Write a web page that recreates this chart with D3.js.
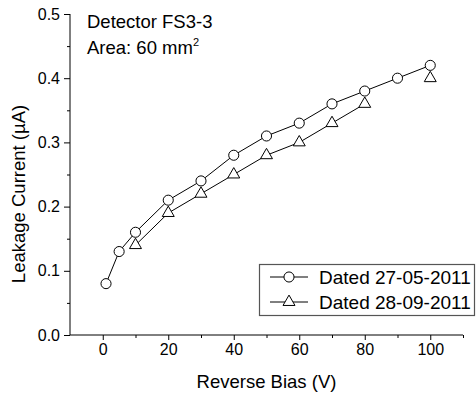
<!DOCTYPE html>
<html>
<head>
<meta charset="utf-8">
<script src="https://cdn.jsdelivr.net/npm/d3@7"></script>
<style>
  body { margin: 0; background: #fff; }
  text { font-family: "Liberation Sans", Arial, sans-serif; fill: #000; }
</style>
</head>
<body>
<div id="chart"></div>
<script>
const width = 476;
const height = 394;

// --- data ---
const biasMay = [1, 5, 10, 20, 30, 40, 50, 60, 70, 80, 90, 100];
const currentMay = [0.08, 0.13, 0.16, 0.21, 0.24, 0.28, 0.31, 0.33, 0.36, 0.38, 0.40, 0.42];
const biasSep = [10, 20, 30, 40, 50, 60, 70, 80, 90, 100];
const currentSep = [0.14, 0.19, 0.22, 0.25, 0.28, 0.30, 0.33, 0.36, null, 0.40];
const seriesNames = ["Dated 27-05-2011", "Dated 28-09-2011"];
const xMajorTicks = [0, 20, 40, 60, 80, 100];
const xMinorTicks = [10, 30, 50, 70, 90, 110];
const yMajorTicks = [0, 0.1, 0.2, 0.3, 0.4, 0.5];
const yMinorTicks = [0.05, 0.15, 0.25, 0.35, 0.45];

const may = biasMay.map((b, i) => ({ x: b, y: currentMay[i] }));
const sep = biasSep.map((b, i) => ({ x: b, y: currentSep[i] }));

const x = d3.scaleLinear().domain([-10, 110]).range([70, 463]);
const y = d3.scaleLinear().domain([0, 0.5]).range([335, 14]);

const svg = d3.select("#chart")
    .append("svg")
    .attr("width", width)
    .attr("height", height);

// --- axes ---
const xAxis = svg.append("g")
    .attr("transform", `translate(0,${y(0)})`)
    .call(d3.axisBottom(x).tickValues(xMajorTicks).tickSize(5).tickPadding(4).tickFormat(d3.format("d")));
svg.append("g")
    .attr("transform", `translate(0,${y(0)})`)
    .call(d3.axisBottom(x).tickValues(xMinorTicks).tickSize(3).tickFormat(""))
    .select(".domain").remove();

const yAxis = svg.append("g")
    .attr("transform", `translate(${x(-10)},0)`)
    .call(d3.axisLeft(y).tickValues(yMajorTicks).tickSize(6).tickPadding(4).tickFormat(d3.format(".1f")));
svg.append("g")
    .attr("transform", `translate(${x(-10)},0)`)
    .call(d3.axisLeft(y).tickValues(yMinorTicks).tickSize(3).tickFormat(""))
    .select(".domain").remove();

// no outer ticks on the domain lines
xAxis.select(".domain").attr("d", `M${x(-10)},0H${x(110)}`);
yAxis.select(".domain").attr("d", `M0,${y(0)}V${y(0.5)}`);

svg.selectAll(".tick text")
    .style("font-family", "'Liberation Sans', Arial, sans-serif")
    .style("font-size", "16px");
svg.selectAll("path.domain, .tick line").attr("stroke", "#000").attr("stroke-width", 1);

// --- axis titles ---
svg.append("text")
    .attr("x", (x(-10) + x(110)) / 2)
    .attr("y", 388)
    .attr("text-anchor", "middle")
    .style("font-size", "18.5px")
    .text("Reverse Bias (V)");

svg.append("text")
    .attr("transform", "translate(25,194) rotate(-90)")
    .attr("text-anchor", "middle")
    .style("font-size", "18.5px")
    .text("Leakage Current (\u00B5A)");

// --- annotation ---
svg.append("text")
    .attr("x", 87)
    .attr("y", 28)
    .style("font-size", "18.5px")
    .text("Detector FS3-3");

const area = svg.append("text")
    .attr("x", 87)
    .attr("y", 54)
    .style("font-size", "18.5px");
area.append("tspan").text("Area: 60 mm");
area.append("tspan").attr("dy", -8).style("font-size", "11px").text("2");

// --- series ---
const line = d3.line()
    .defined(d => d.y !== null)
    .x(d => x(d.x))
    .y(d => y(d.y));

const circle = d3.symbol().type(d3.symbolCircle).size(80);
const triangle = d3.symbol().type(d3.symbolTriangle).size(62);

[may, sep].forEach(s => {
    svg.append("path")
        .datum(s)
        .attr("d", line)
        .attr("fill", "none")
        .attr("stroke", "#000")
        .attr("stroke-width", 1);
});

svg.selectAll(".pt-may")
    .data(may)
    .enter()
    .append("path")
    .attr("class", "pt-may")
    .attr("transform", d => `translate(${x(d.x)},${y(d.y)})`)
    .attr("d", circle)
    .attr("fill", "#fff")
    .attr("stroke", "#000");

svg.selectAll(".pt-sep")
    .data(sep.filter(d => d.y !== null))
    .enter()
    .append("path")
    .attr("class", "pt-sep")
    .attr("transform", d => `translate(${x(d.x)},${y(d.y)})`)
    .attr("d", triangle)
    .attr("fill", "#fff")
    .attr("stroke", "#000");

// --- legend ---
const legend = svg.append("g");
legend.append("rect")
    .attr("x", 259.5)
    .attr("y", 264.5)
    .attr("width", 215)
    .attr("height", 51)
    .attr("fill", "#fff")
    .attr("stroke", "#555")
    .attr("stroke-width", 1.2);

const symbols = [circle, triangle];
seriesNames.forEach((name, i) => {
    const cy = 277 + i * 25;
    legend.append("line")
        .attr("x1", 270).attr("x2", 308)
        .attr("y1", cy).attr("y2", cy)
        .attr("stroke", "#000");
    legend.append("path")
        .attr("transform", `translate(289,${cy})`)
        .attr("d", symbols[i])
        .attr("fill", "#fff")
        .attr("stroke", "#000");
    legend.append("text")
        .attr("x", 319)
        .attr("y", cy + 6.5)
        .style("font-size", "19px")
        .text(name);
});
</script>
</body>
</html>
